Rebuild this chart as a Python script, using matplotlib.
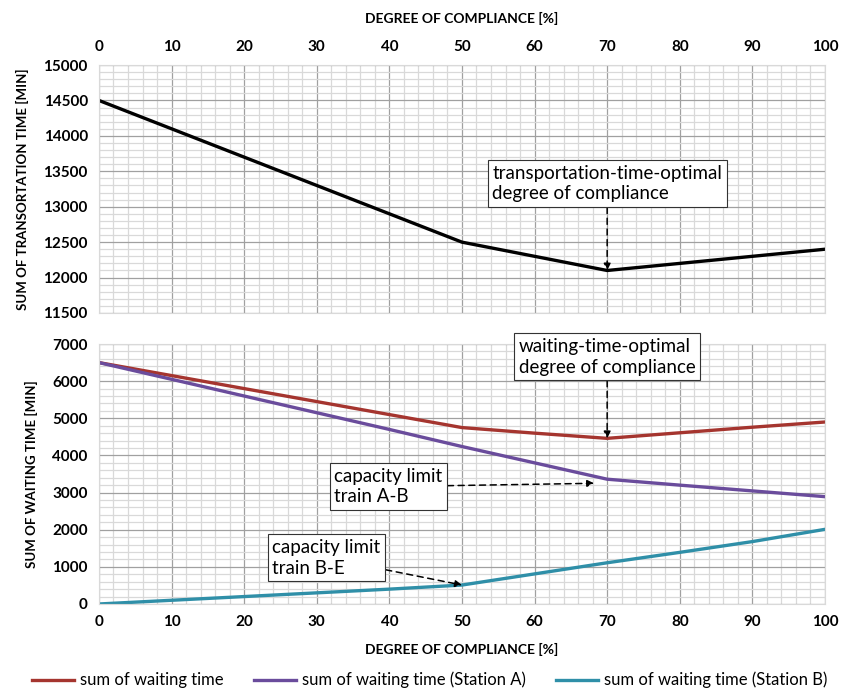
import matplotlib.pyplot as plt
from matplotlib.ticker import MultipleLocator

# degree of compliance [%]
compliance = [0, 10, 20, 30, 40, 50, 60, 70, 80, 90, 100]

# transportation time [min]
transport_time = [14500, 14100, 13700, 13300, 12900, 12500, 12300, 12100, 12200, 12300, 12400]

# waiting times [min]
wait_total = [6500, 6150, 5800, 5450, 5100, 4750, 4600, 4460, 4610, 4760, 4900]
wait_station_a = [6500, 6050, 5600, 5150, 4700, 4240, 3800, 3360, 3200, 3045, 2890]
wait_station_b = [0, 100, 200, 300, 400, 510, 810, 1110, 1390, 1680, 2010]

RED = "#a5352f"
PURPLE = "#6a4c9c"
TEAL = "#2f8fa8"

plt.rcParams["font.family"] = ["Lato", "DejaVu Sans"]

fig = plt.figure(figsize=(8.43, 6.94), dpi=100)
ax1 = fig.add_axes([0.1174, 0.549, 0.8612, 0.3573])
ax2 = fig.add_axes([0.1174, 0.1297, 0.8612, 0.3746])


def style_grid(ax, ymajor, yminor):
    ax.set_xlim(0, 100)
    ax.xaxis.set_major_locator(MultipleLocator(10))
    ax.xaxis.set_minor_locator(MultipleLocator(2))
    ax.yaxis.set_major_locator(MultipleLocator(ymajor))
    ax.yaxis.set_minor_locator(MultipleLocator(yminor))
    ax.grid(which="major", color="#a0a0a0", lw=0.9)
    ax.grid(which="minor", color="#d9d9d9", lw=0.9)
    ax.set_axisbelow(True)
    for s in ax.spines.values():
        s.set_color("#d9d9d9")
    ax.tick_params(which="both", length=0, labelsize=11, pad=8)
    for lbl in ax.get_xticklabels() + ax.get_yticklabels():
        lbl.set_fontweight("bold")


# top panel: transportation time
ax1.plot(compliance, transport_time, color="black", lw=2.4)
ax1.set_ylim(11500, 15000)
style_grid(ax1, 500, 100)
ax1.xaxis.tick_top()
ax1.xaxis.set_label_position("top")
for lbl in ax1.get_xticklabels() + ax1.get_yticklabels():
    lbl.set_fontweight("bold")
ax1.set_xlabel("DEGREE OF COMPLIANCE [%]", fontsize=10, fontweight="bold", labelpad=12)
ax1.set_ylabel("SUM OF TRANSORTATION TIME [MIN]", fontsize=9.5, fontweight="bold", labelpad=10)

box = dict(boxstyle="square,pad=0.25", fc="white", ec="#333333", lw=0.8)
arrow = dict(arrowstyle="-|>", ls=(0, (4, 3)), color="black", lw=1.1, mutation_scale=10,
             shrinkA=0, shrinkB=0)
note = dict(fontsize=13.5, bbox=box, arrowprops=arrow, linespacing=1.25,
            multialignment="left")

ax1.annotate("transportation-time-optimal\ndegree of compliance",
             xy=(compliance[7], transport_time[7]), xytext=(70, 13060),
             ha="center", va="bottom", **note)

# bottom panel: waiting times
ax2.plot(compliance, wait_total, color=RED, lw=2.4, label="sum of waiting time")
ax2.plot(compliance, wait_station_a, color=PURPLE, lw=2.4, label="sum of waiting time (Station A)")
ax2.plot(compliance, wait_station_b, color=TEAL, lw=2.4, label="sum of waiting time (Station B)")
ax2.set_ylim(0, 7000)
style_grid(ax2, 1000, 200)
ax2.set_xlabel("DEGREE OF COMPLIANCE [%]", fontsize=10, fontweight="bold", labelpad=10)
ax2.set_ylabel("SUM OF WAITING TIME [MIN]", fontsize=9.5, fontweight="bold", labelpad=10)

ax2.annotate("waiting-time-optimal\ndegree of compliance",
             xy=(compliance[7], wait_total[7]), xytext=(70, 6150),
             ha="center", va="bottom", annotation_clip=False, **note)
ax2.annotate("capacity limit\ntrain A-B",
             xy=(68.2, 3250), xytext=(32.4, 3160),
             ha="left", va="center", **note)
ax2.annotate("capacity limit\ntrain B-E",
             xy=(compliance[5], wait_station_b[5]), xytext=(23.9, 1240),
             ha="left", va="center", **note)

fig.legend(loc="center", bbox_to_anchor=(0.51, 0.02), ncol=3, frameon=False,
           fontsize=12, handlelength=2.5, columnspacing=1.8, handletextpad=0.4)

fig.savefig("out.png", dpi=100)
